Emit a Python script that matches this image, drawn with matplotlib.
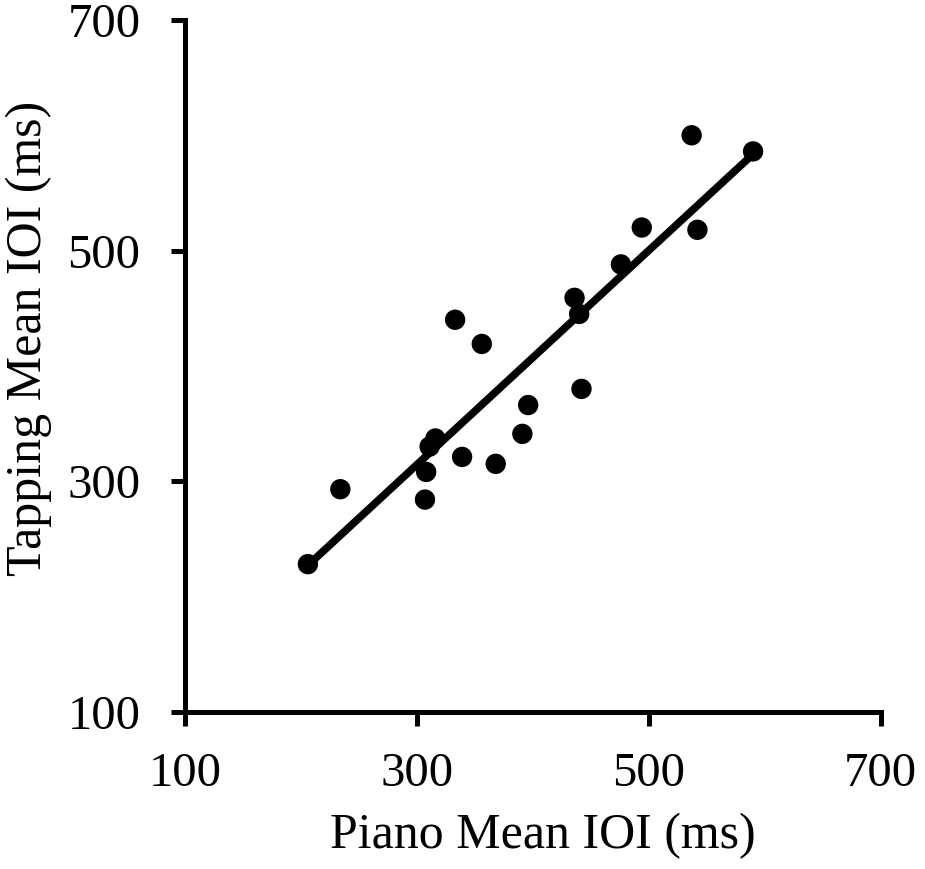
import matplotlib.pyplot as plt
import numpy as np

plt.rcParams['font.family'] = ['Liberation Serif', 'DejaVu Serif']

# Piano vs tapping mean inter-onset intervals (ms)
piano = [206, 234, 307, 308, 311, 316, 339, 333, 356, 368, 391, 396,
         436, 440, 442, 476, 494, 537, 542, 590]
tapping = [228, 293, 284, 308, 330, 337, 321, 440, 419, 315, 341, 366,
           459, 445, 380, 488, 520, 600, 518, 586]
ticks = [100, 300, 500, 700]

fig = plt.figure(figsize=(9.25, 8.69), dpi=100)
ax = fig.add_axes([0.2, 0.181, 0.752, 0.796])

# least squares fit line over the data range
slope, icpt = np.polyfit(piano, tapping, 1)
xs = np.array([min(piano), max(piano)])
ax.plot(xs, slope*xs + icpt, "-", c="black", linewidth=5.5, solid_capstyle="butt", zorder=2)
ax.scatter(piano, tapping, s=215, c="black", edgecolors="none", zorder=3)

ax.set_xlim(100, 700)
ax.set_ylim(100, 700)
ax.set_xticks(ticks)
ax.set_yticks(ticks)
ax.tick_params(direction="out", length=10, width=3.6, labelsize=35)
ax.tick_params(axis="x", pad=19)
ax.tick_params(axis="y", pad=22)
for side in ["top", "right"]:
	ax.spines[side].set_visible(False)
for side in ["left", "bottom"]:
	ax.spines[side].set_linewidth(3.6)
ax.set_xlabel("Piano Mean IOI (ms)", fontsize=36, labelpad=12)
ax.set_ylabel("Tapping Mean IOI (ms)", fontsize=36, labelpad=11)
# labels sit a little off centre in the original
ax.xaxis.label.set_x(0.515)
ax.yaxis.label.set_y(0.54)

fig.savefig("out.png", dpi=100)
